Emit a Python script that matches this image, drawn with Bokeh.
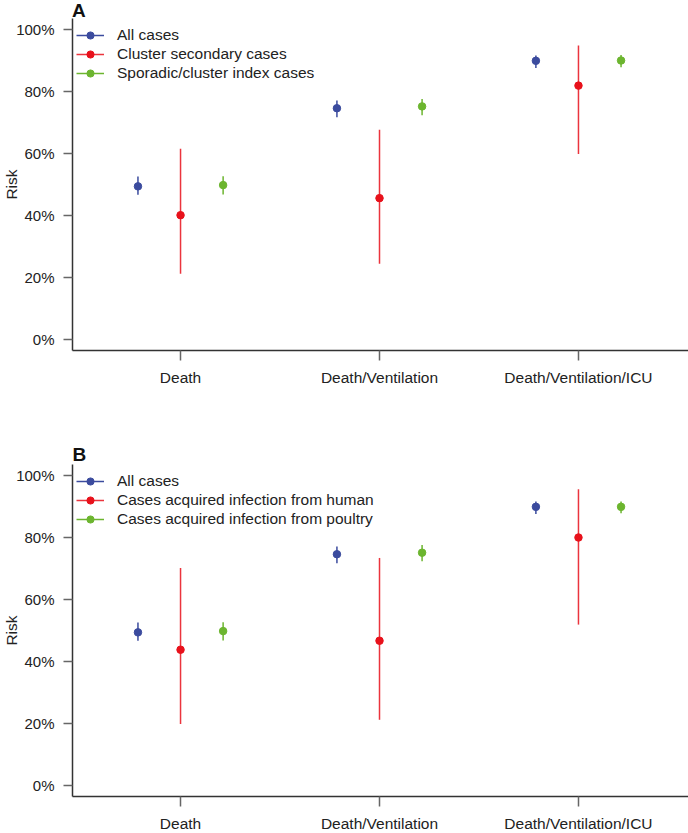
import numpy as np
from bokeh.plotting import figure
from bokeh.models import (ColumnDataSource, FixedTicker, NumeralTickFormatter,
                          Legend, LegendItem, Range1d, Title, Div)
from bokeh.layouts import column
from bokeh.embed import file_html
from bokeh.resources import INLINE

# ---------------- data ----------------
categories = ["Death", "Death/Ventilation", "Death/Ventilation/ICU"]
y_ticks = [0.0, 0.2, 0.4, 0.6, 0.8, 1.0]

# All cases (same in both panels)
all_est = [0.494, 0.746, 0.899]
all_lo = [0.467, 0.717, 0.876]
all_hi = [0.526, 0.771, 0.916]

# Panel A
a_labels = ["All cases", "Cluster secondary cases", "Sporadic/cluster index cases"]
a_sec_est = [0.401, 0.456, 0.819]
a_sec_lo = [0.212, 0.244, 0.598]
a_sec_hi = [0.615, 0.677, 0.948]
a_idx_est = [0.498, 0.752, 0.900]
a_idx_lo = [0.468, 0.723, 0.878]
a_idx_hi = [0.527, 0.776, 0.918]

# Panel B
b_labels = ["All cases", "Cases acquired infection from human",
            "Cases acquired infection from poultry"]
b_hum_est = [0.438, 0.467, 0.800]
b_hum_lo = [0.198, 0.212, 0.519]
b_hum_hi = [0.702, 0.734, 0.956]
b_pou_est = [0.498, 0.751, 0.899]
b_pou_lo = [0.468, 0.723, 0.878]
b_pou_hi = [0.527, 0.776, 0.916]

colors = ["#3b4b9e", "#e8111b", "#6cb52f"]
offsets = [-0.214, 0.0, 0.214]

FONT = "Liberation Sans"
TXT = "#222222"
FRAME_W, FRAME_H = 616, 332


def make_panel(letter, labels, series, min_top, min_bottom, height):
    p = figure(width=688, height=height, frame_width=FRAME_W, frame_height=FRAME_H,
               output_backend="svg", toolbar_location=None,
               x_range=Range1d(0.457, 3.553), y_range=Range1d(-0.0355, 1.0355),
               min_border_left=72, min_border_right=0,
               min_border_top=min_top, min_border_bottom=min_bottom)
    if letter:
        p.title = Title(text=letter, align="left", text_font=FONT,
                        text_font_style="bold", text_font_size="19px",
                        text_color="#111111", standoff=0, offset=0)
    else:
        p.title = None
    p.outline_line_color = None
    p.xgrid.visible = False
    p.ygrid.visible = False
    p.background_fill_color = "white"
    p.border_fill_color = "white"

    x_base = np.arange(1, len(categories) + 1)
    items = []
    for (est, lo, hi), col, off, lab in zip(series, colors, offsets, labels):
        xs = x_base + off
        src = ColumnDataSource(dict(x=xs, est=est, lo=lo, hi=hi))
        seg = p.segment(x0="x", y0="lo", x1="x", y1="hi", source=src,
                        line_color=col, line_width=1.5,
                        line_alpha=0.85 if col == colors[1] else 1.0)
        dot = p.scatter(x="x", y="est", source=src, size=7.5,
                        fill_color=col, line_color=col)
        items.append(LegendItem(label=lab, renderers=[seg, dot]))

    legend = Legend(items=items, location=(4, 268), padding=5, margin=0,
                    spacing=1, glyph_width=28, glyph_height=18, label_height=18,
                    label_standoff=13, background_fill_alpha=0,
                    border_line_color=None,
                    label_text_font=FONT, label_text_font_size="15.5px",
                    label_text_color=TXT)
    p.add_layout(legend, "center")

    # x axis
    xa = p.xaxis[0]
    xa.ticker = FixedTicker(ticks=list(x_base))
    xa.major_label_overrides = {int(i): c for i, c in zip(x_base, categories)}
    xa.minor_tick_line_color = None
    xa.major_tick_in = 0
    xa.major_tick_out = 10
    xa.major_tick_line_color = "#666666"
    xa.major_tick_line_width = 1.5
    xa.axis_line_color = "#333333"
    xa.axis_line_width = 1.5
    xa.major_label_standoff = 8
    xa.major_label_text_font = FONT
    xa.major_label_text_font_size = "15.5px"
    xa.major_label_text_color = TXT

    # y axis
    ya = p.yaxis[0]
    ya.ticker = FixedTicker(ticks=y_ticks)
    ya.formatter = NumeralTickFormatter(format="0%")
    ya.minor_tick_line_color = None
    ya.major_tick_in = 0
    ya.major_tick_out = 9
    ya.major_tick_line_color = "#666666"
    ya.major_tick_line_width = 1.5
    ya.axis_line_color = "#333333"
    ya.axis_line_width = 1.5
    ya.major_label_standoff = 9
    ya.major_label_text_font = FONT
    ya.major_label_text_font_size = "15px"
    ya.major_label_text_color = TXT
    ya.axis_label = "Risk"
    ya.axis_label_standoff = -7
    ya.axis_label_text_font = FONT
    ya.axis_label_text_font_size = "15.5px"
    ya.axis_label_text_font_style = "normal"
    ya.axis_label_text_color = TXT
    return p


headA = Div(text="A", width=688, height=18, margin=(0, 0, 0, 0),
            styles={"font-family": FONT, "font-weight": "bold",
                    "font-size": "19px", "line-height": "normal",
                    "overflow": "visible",
                    "padding-left": "72px", "color": "#111111"})
pA = make_panel(None, a_labels,
                [(all_est, all_lo, all_hi), (a_sec_est, a_sec_lo, a_sec_hi),
                 (a_idx_est, a_idx_lo, a_idx_hi)],
                min_top=0, min_bottom=91, height=423)
pB = make_panel("B", b_labels,
                [(all_est, all_lo, all_hi), (b_hum_est, b_hum_lo, b_hum_hi),
                 (b_pou_est, b_pou_lo, b_pou_hi)],
                min_top=18, min_bottom=37, height=392)

layout = column(headA, pA, pB, spacing=0)
open("out.html", "w").write(file_html(layout, INLINE))
